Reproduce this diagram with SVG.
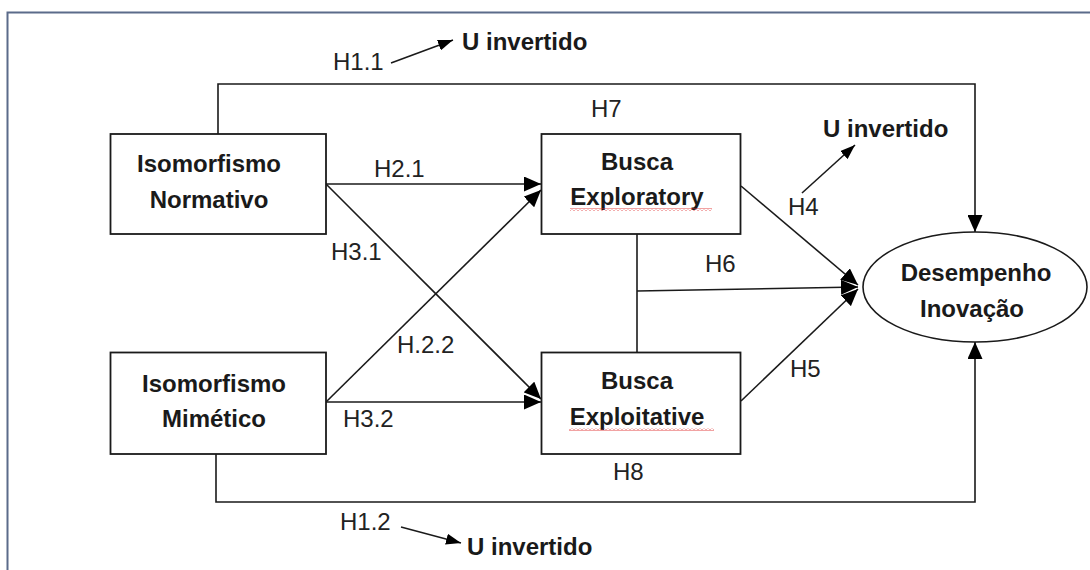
<svg xmlns="http://www.w3.org/2000/svg" width="1090" height="570" viewBox="0 0 1090 570">
<style>
.box{fill:#fff;stroke:#1a1a1a;stroke-width:1.8}
.ln{fill:none;stroke:#1a1a1a;stroke-width:1.6}
.b{font-family:"Liberation Sans",Arial,sans-serif;font-weight:bold;font-size:24px;fill:#1a1a1a;text-anchor:middle}
.r{font-family:"Liberation Sans",Arial,sans-serif;font-size:24px;fill:#222}
.bl{font-family:"Liberation Sans",Arial,sans-serif;font-weight:bold;font-size:24px;fill:#1a1a1a}
</style>
<defs>
<marker id="ah" markerUnits="userSpaceOnUse" markerWidth="17" markerHeight="15" refX="17" refY="7.5" orient="auto">
<path d="M0,0 L17,7.5 L0,15 z" fill="#000"/>
</marker>
<marker id="as" markerUnits="userSpaceOnUse" markerWidth="15" markerHeight="11" refX="15" refY="5.5" orient="auto">
<path d="M0,0 L15,5.5 L0,11 z" fill="#000"/>
</marker>
<pattern id="sq" width="4" height="3" patternUnits="userSpaceOnUse">
<path d="M0,2.5 L2,0.5 L4,2.5" fill="none" stroke="#e03030" stroke-width="0.9"/>
</pattern>
</defs>
<rect x="7.5" y="12.5" width="1100" height="600" fill="#fff" stroke="#5b6b8a" stroke-width="2"/>
<g id="connectors">
<path class="ln" d="M218,134 V84 H975 V232" marker-end="url(#ah)"/>
<path class="ln" d="M216,454 V502 H975 V342" marker-end="url(#ah)"/>
<line class="ln" x1="326" y1="184" x2="541" y2="184" marker-end="url(#ah)"/>
<line class="ln" x1="326" y1="184" x2="541" y2="399" marker-end="url(#ah)"/>
<line class="ln" x1="326" y1="402" x2="541" y2="190" marker-end="url(#ah)"/>
<line class="ln" x1="326" y1="402" x2="541" y2="402" marker-end="url(#ah)"/>
<line class="ln" x1="637" y1="234" x2="637" y2="352"/>
<line class="ln" x1="637" y1="291" x2="858" y2="287" marker-end="url(#ah)"/>
<line class="ln" x1="741" y1="186" x2="858" y2="285" marker-end="url(#ah)"/>
<line class="ln" x1="741" y1="401" x2="858" y2="289" marker-end="url(#ah)"/>
<line class="ln" x1="391" y1="63" x2="453" y2="40" marker-end="url(#as)"/>
<line class="ln" x1="802" y1="193" x2="855" y2="145" marker-end="url(#as)"/>
<line class="ln" x1="401" y1="527" x2="461" y2="543" marker-end="url(#as)"/>
</g>
<g id="normativo">
<rect class="box" x="110.5" y="134" width="215.5" height="100"/>
<text class="b" x="209" y="172">Isomorfismo</text>
<text class="b" x="209" y="208">Normativo</text>
</g>
<g id="mimetico">
<rect class="box" x="110.5" y="352.5" width="215.5" height="101.5"/>
<text class="b" x="214" y="392">Isomorfismo</text>
<text class="b" x="214" y="427">Mimético</text>
</g>
<g id="exploratory">
<rect class="box" x="541.5" y="134" width="199" height="100"/>
<text class="b" x="637" y="170">Busca</text>
<text class="b" x="637" y="205">Exploratory</text>
<rect x="570" y="208" width="142" height="3" fill="url(#sq)"/>
</g>
<g id="exploitative">
<rect class="box" x="541.5" y="352.5" width="199" height="101.5"/>
<text class="b" x="637" y="389">Busca</text>
<text class="b" x="637" y="425">Exploitative</text>
<rect x="569" y="428" width="145" height="3" fill="url(#sq)"/>
</g>
<g id="desempenho">
<ellipse cx="975" cy="287" rx="112" ry="55" fill="#fff" stroke="#1a1a1a" stroke-width="1.6"/>
<text class="b" x="976" y="281">Desempenho</text>
<text class="b" x="972" y="317">Inovação</text>
</g>
<g id="labels">
<text class="r" x="333" y="70">H1.1</text>
<text class="bl" x="462" y="50">U invertido</text>
<text class="r" x="591" y="117">H7</text>
<text class="r" x="374" y="177">H2.1</text>
<text class="r" x="331" y="260">H3.1</text>
<text class="r" x="397" y="353">H.2.2</text>
<text class="r" x="343" y="427">H3.2</text>
<text class="bl" x="823" y="137">U invertido</text>
<text class="r" x="788" y="215">H4</text>
<text class="r" x="705" y="272">H6</text>
<text class="r" x="790" y="377">H5</text>
<text class="r" x="613" y="480">H8</text>
<text class="r" x="340" y="530">H1.2</text>
<text class="bl" x="467" y="555">U invertido</text>
</g>
</svg>
